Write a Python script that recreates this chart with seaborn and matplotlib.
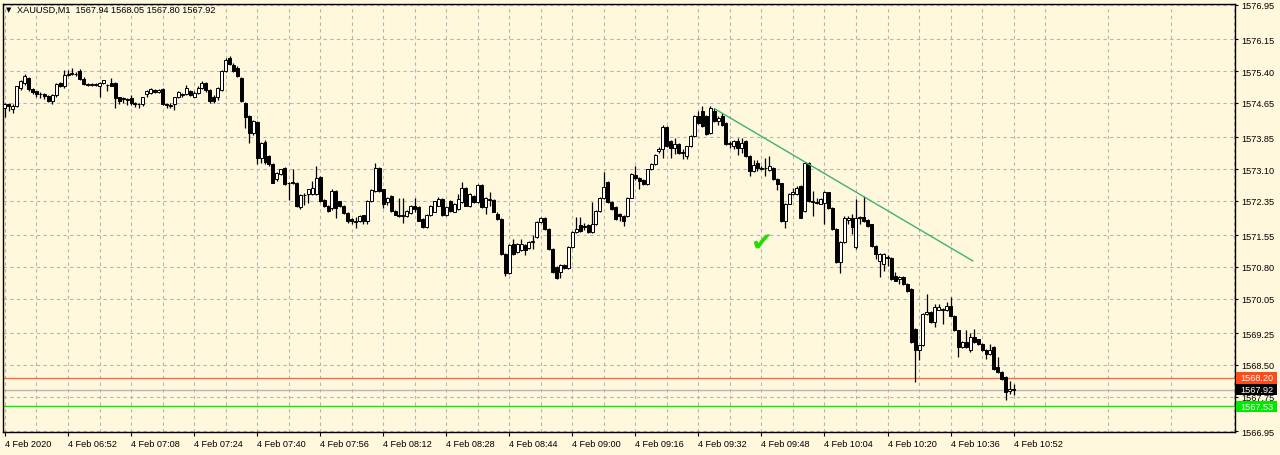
# ======================================================
# XAUUSD M1 candlestick chart (MetaTrader style)
# ======================================================

import numpy as np
import pandas as pd
import seaborn as sns
import matplotlib.pyplot as plt
from matplotlib.patches import Rectangle
from matplotlib.ticker import FixedLocator
from matplotlib.transforms import blended_transform_factory

# ======================================================
# Data
# ======================================================

opens = [
    1574.54, 1574.62, 1574.50, 1574.58, 1575.00, 1575.12, 1575.24, 1574.97, 1574.92, 1574.86,
    1574.86, 1574.82, 1574.69, 1574.83, 1575.13, 1575.05, 1575.31, 1575.33, 1575.33, 1575.40,
    1575.22, 1575.10, 1575.08, 1575.08, 1575.05, 1575.12, 1575.08, 1575.13, 1575.12, 1574.78,
    1574.76, 1574.74, 1574.76, 1574.66, 1574.63, 1574.62, 1574.85, 1574.89, 1574.95, 1574.90,
    1574.97, 1574.62, 1574.59, 1574.62, 1574.78, 1574.84, 1574.86, 1574.92, 1574.80, 1574.89,
    1575.01, 1575.13, 1574.95, 1574.80,
    1574.78, 1574.95, 1575.40, 1575.70, 1575.54, 1575.48, 1575.24, 1574.66, 1574.34, 1573.95,
    1574.20, 1573.36, 1573.74, 1573.40, 1573.22, 1572.86, 1572.98, 1573.12, 1572.77, 1572.80,
    1572.77, 1572.21, 1572.48, 1572.52, 1572.52, 1572.52, 1572.92, 1572.38, 1572.23, 1572.19,
    1572.59, 1572.34, 1572.23, 1572.07, 1571.92, 1571.87, 1571.88, 1572.01, 1571.88, 1572.35,
    1572.58, 1573.13, 1572.62, 1572.32, 1572.46, 1572.11, 1572.03, 1572.00, 1572.00, 1572.07,
    1572.24, 1572.20, 1571.93, 1571.74, 1572.02, 1572.10, 1572.24, 1572.40, 1572.01, 1572.35,
    1572.10, 1572.16, 1572.32, 1572.65, 1572.22, 1572.46, 1572.32, 1572.72, 1572.20, 1572.40,
    1572.37, 1572.05, 1571.93, 1571.11, 1570.65, 1571.35, 1571.15, 1571.19, 1571.31, 1571.24,
    1571.38, 1571.50, 1571.85, 1571.95, 1571.70, 1571.23, 1570.80, 1570.68, 1570.85, 1570.77,
    1571.27, 1571.62, 1571.78, 1571.76, 1571.78, 1571.62, 1571.80, 1572.12, 1572.42, 1572.79,
    1572.32, 1572.20,
    1572.04, 1572.00, 1571.99, 1572.43, 1572.97, 1572.90, 1572.84, 1572.74, 1573.09, 1573.21,
    1573.52, 1573.56, 1574.08, 1573.75, 1573.60, 1573.68, 1573.48, 1573.40, 1573.63, 1573.87,
    1574.34, 1574.46, 1574.34, 1573.94, 1574.46, 1574.22, 1574.34, 1574.18, 1573.68, 1573.64,
    1573.75, 1573.60, 1573.75, 1573.40, 1573.05, 1573.24, 1573.13, 1573.13, 1573.07, 1573.13,
    1572.86, 1572.76, 1571.88, 1572.29, 1572.51, 1572.51, 1572.70, 1572.12, 1573.25, 1572.35,
    1572.33, 1572.29, 1572.31, 1572.55, 1572.19, 1571.69, 1570.91, 1571.38, 1571.90, 1571.96,
    1571.26, 1571.96, 1571.98, 1571.90, 1571.80, 1571.30, 1570.95, 1570.88, 1571.04, 1571.02,
    1570.60, 1570.52, 1570.56, 1570.40, 1570.28, 1569.35, 1568.84, 1568.96, 1569.70, 1569.74,
    1569.51, 1569.80, 1569.78, 1569.78, 1569.89, 1569.66, 1569.31, 1568.92, 1569.04, 1568.84,
    1569.15, 1569.10, 1569.00, 1568.86, 1568.76, 1568.92, 1568.45, 1568.33, 1568.21, 1567.88,
    1567.94,
]

highs = [
    1574.64, 1574.66, 1574.62, 1575.06, 1575.18, 1575.32, 1575.26, 1574.99, 1574.94, 1574.90,
    1574.88, 1574.84, 1574.85, 1575.12, 1575.15, 1575.43, 1575.43, 1575.48, 1575.38, 1575.44,
    1575.25, 1575.12, 1575.11, 1575.13, 1575.14, 1575.20, 1575.10, 1575.24, 1575.14, 1574.80,
    1574.78, 1574.76, 1574.84, 1574.68, 1574.66, 1574.80, 1574.96, 1575.00, 1574.98, 1574.98,
    1575.00, 1574.66, 1574.64, 1574.80, 1574.93, 1574.89, 1575.08, 1574.95, 1574.92, 1575.04,
    1575.16, 1575.15, 1574.97, 1574.84,
    1575.03, 1575.42, 1575.70, 1575.76, 1575.58, 1575.52, 1575.26, 1574.68, 1574.36, 1574.26,
    1574.22, 1573.74, 1573.78, 1573.44, 1573.24, 1573.02, 1573.11, 1573.14, 1572.80, 1573.09,
    1572.79, 1572.52, 1572.53, 1572.64, 1572.82, 1573.17, 1572.94, 1572.40, 1572.25, 1572.62,
    1572.61, 1572.36, 1572.25, 1572.09, 1571.94, 1571.98, 1572.02, 1572.03, 1572.37, 1572.62,
    1573.25, 1573.15, 1572.64, 1572.45, 1572.48, 1572.13, 1572.43, 1572.43, 1572.13, 1572.25,
    1572.41, 1572.22, 1571.95, 1572.04, 1572.26, 1572.36, 1572.44, 1572.42, 1572.22, 1572.38,
    1572.30, 1572.52, 1572.79, 1572.67, 1572.54, 1572.48, 1572.75, 1572.74, 1572.44, 1572.55,
    1572.39, 1572.08, 1571.95, 1571.13, 1571.33, 1571.46, 1571.37, 1571.46, 1571.33, 1571.40,
    1571.56, 1571.87, 1571.97, 1571.97, 1571.72, 1571.25, 1570.82, 1570.87, 1570.87, 1571.29,
    1571.64, 1571.97, 1571.97, 1571.84, 1571.82, 1572.32, 1572.14, 1572.44, 1573.02, 1572.81,
    1572.34, 1572.23,
    1572.06, 1572.02, 1572.45, 1573.01, 1573.17, 1572.92, 1572.86, 1573.11, 1573.23, 1573.46,
    1573.62, 1574.14, 1574.10, 1573.77, 1573.83, 1573.70, 1573.56, 1573.65, 1573.89, 1574.36,
    1574.46, 1574.57, 1574.36, 1574.57, 1574.54, 1574.34, 1574.42, 1574.20, 1573.75, 1573.77,
    1573.83, 1573.83, 1573.77, 1573.42, 1573.32, 1573.32, 1573.18, 1573.36, 1573.40, 1573.15,
    1572.88, 1572.78, 1572.31, 1572.53, 1572.66, 1572.70, 1572.72, 1573.27, 1573.27, 1572.59,
    1572.41, 1572.43, 1572.59, 1572.57, 1572.21, 1571.71, 1571.40, 1571.99, 1572.00, 1572.04,
    1572.39, 1572.00, 1572.47, 1571.92, 1571.82, 1571.32, 1571.13, 1571.12, 1571.08, 1571.04,
    1570.68, 1570.58, 1570.58, 1570.42, 1570.30, 1569.37, 1568.98, 1569.72, 1570.17, 1569.76,
    1569.93, 1569.93, 1569.84, 1569.99, 1570.09, 1569.68, 1569.33, 1569.06, 1569.31, 1569.25,
    1569.35, 1569.12, 1569.02, 1568.88, 1569.00, 1568.94, 1568.68, 1568.35, 1568.23, 1568.13,
    1568.05,
]

lows = [
    1574.31, 1574.45, 1574.42, 1574.55, 1574.95, 1575.08, 1574.93, 1574.87, 1574.80, 1574.76,
    1574.74, 1574.68, 1574.62, 1574.80, 1575.02, 1575.01, 1575.28, 1575.30, 1575.28, 1575.20,
    1575.08, 1575.06, 1575.06, 1575.06, 1574.78, 1575.10, 1574.93, 1575.04, 1574.54, 1574.62,
    1574.64, 1574.60, 1574.60, 1574.55, 1574.54, 1574.58, 1574.80, 1574.86, 1574.88, 1574.88,
    1574.60, 1574.54, 1574.54, 1574.48, 1574.76, 1574.80, 1574.84, 1574.82, 1574.78, 1574.87,
    1574.98, 1574.90, 1574.66, 1574.66,
    1574.72, 1574.93, 1575.38, 1575.54, 1575.38, 1575.26, 1574.68, 1574.07, 1573.72, 1573.90,
    1573.22, 1573.25, 1573.22, 1573.18, 1572.76, 1572.82, 1572.95, 1572.72, 1572.38, 1572.74,
    1572.21, 1572.16, 1572.25, 1572.30, 1572.50, 1572.50, 1572.33, 1572.20, 1572.09, 1572.14,
    1571.95, 1572.21, 1572.05, 1571.84, 1571.80, 1571.72, 1571.86, 1571.82, 1571.80, 1572.33,
    1572.56, 1572.56, 1572.19, 1572.26, 1572.09, 1572.01, 1571.98, 1571.84, 1571.98, 1572.05,
    1572.08, 1571.87, 1571.72, 1571.72, 1572.00, 1572.08, 1572.22, 1571.99, 1571.99, 1572.10,
    1572.08, 1572.14, 1572.30, 1572.22, 1572.20, 1572.30, 1572.30, 1572.18, 1572.05, 1572.24,
    1572.08, 1571.91, 1571.09, 1570.60, 1570.63, 1571.09, 1571.13, 1571.17, 1571.07, 1571.22,
    1571.23, 1571.48, 1571.83, 1571.68, 1571.21, 1570.66, 1570.51, 1570.53, 1570.75, 1570.75,
    1571.25, 1571.60, 1571.62, 1571.66, 1571.60, 1571.60, 1571.78, 1572.10, 1572.40, 1572.30,
    1572.14, 1571.91,
    1571.88, 1571.76, 1571.97, 1572.41, 1572.85, 1572.62, 1572.72, 1572.72, 1573.07, 1573.19,
    1573.48, 1573.37, 1573.61, 1573.37, 1573.45, 1573.46, 1573.33, 1573.33, 1573.61, 1573.85,
    1574.16, 1574.08, 1573.89, 1573.92, 1574.20, 1574.14, 1574.12, 1573.66, 1573.60, 1573.58,
    1573.44, 1573.48, 1573.38, 1572.93, 1573.03, 1573.06, 1573.08, 1572.93, 1573.05, 1572.84,
    1572.60, 1571.86, 1571.72, 1572.27, 1572.49, 1572.49, 1571.94, 1572.10, 1572.33, 1572.00,
    1572.29, 1572.27, 1571.80, 1572.17, 1571.67, 1570.89, 1570.67, 1571.36, 1571.82, 1571.57,
    1571.22, 1571.80, 1571.86, 1571.75, 1571.28, 1570.98, 1570.56, 1570.71, 1570.83, 1570.50,
    1570.46, 1570.40, 1570.38, 1570.22, 1569.02, 1568.10, 1568.62, 1568.94, 1569.68, 1569.49,
    1569.38, 1569.78, 1569.46, 1569.76, 1569.64, 1569.29, 1568.68, 1568.90, 1568.90, 1568.80,
    1569.02, 1568.96, 1568.82, 1568.64, 1568.74, 1568.39, 1568.31, 1568.15, 1567.67, 1567.82,
    1567.80,
]

closes = [
    1574.62, 1574.58, 1574.58, 1575.04, 1575.16, 1575.28, 1574.97, 1574.90, 1574.86, 1574.85,
    1574.82, 1574.69, 1574.83, 1575.10, 1575.04, 1575.31, 1575.34, 1575.33, 1575.32, 1575.22,
    1575.10, 1575.08, 1575.09, 1575.10, 1575.13, 1575.18, 1575.07, 1575.06, 1574.77, 1574.70,
    1574.75, 1574.73, 1574.66, 1574.63, 1574.62, 1574.78, 1574.93, 1574.97, 1574.90, 1574.96,
    1574.62, 1574.60, 1574.58, 1574.78, 1574.90, 1574.85, 1575.00, 1574.84, 1574.89, 1575.01,
    1575.13, 1574.95, 1574.70, 1574.70,
    1575.01, 1575.40, 1575.65, 1575.56, 1575.40, 1575.28, 1574.70, 1574.31, 1573.95, 1574.23,
    1573.36, 1573.72, 1573.27, 1573.21, 1572.78, 1573.00, 1573.09, 1572.74, 1572.78, 1572.77,
    1572.23, 1572.50, 1572.50, 1572.62, 1572.66, 1572.90, 1572.35, 1572.23, 1572.11, 1572.59,
    1572.19, 1572.23, 1572.07, 1571.89, 1571.88, 1571.86, 1572.00, 1571.88, 1572.35, 1572.60,
    1573.13, 1572.58, 1572.27, 1572.43, 1572.11, 1572.03, 1572.00, 1572.01, 1572.11, 1572.23,
    1572.16, 1571.89, 1571.74, 1572.02, 1572.24, 1572.34, 1572.40, 1572.01, 1572.20, 1572.12,
    1572.28, 1572.40, 1572.65, 1572.24, 1572.52, 1572.32, 1572.72, 1572.20, 1572.42, 1572.37,
    1572.10, 1571.93, 1571.11, 1570.65, 1571.31, 1571.11, 1571.35, 1571.35, 1571.19, 1571.38,
    1571.42, 1571.85, 1571.95, 1571.70, 1571.23, 1570.68, 1570.53, 1570.85, 1570.77, 1571.27,
    1571.62, 1571.70, 1571.64, 1571.74, 1571.62, 1571.80, 1572.12, 1572.42, 1572.67, 1572.32,
    1572.16, 1571.93,
    1571.99, 1571.88, 1572.43, 1572.99, 1572.90, 1572.82, 1572.74, 1573.09, 1573.21, 1573.44,
    1573.56, 1574.08, 1573.63, 1573.60, 1573.68, 1573.48, 1573.50, 1573.63, 1573.87, 1574.34,
    1574.18, 1574.10, 1573.91, 1574.53, 1574.22, 1574.30, 1574.14, 1573.68, 1573.70, 1573.75,
    1573.60, 1573.70, 1573.40, 1573.05, 1573.20, 1573.13, 1573.10, 1573.12, 1573.17, 1572.86,
    1572.74, 1571.88, 1572.29, 1572.51, 1572.55, 1572.66, 1571.96, 1573.25, 1572.35, 1572.33,
    1572.31, 1572.39, 1572.57, 1572.19, 1571.69, 1570.91, 1571.38, 1571.96, 1571.96, 1571.73,
    1571.96, 1571.95, 1571.88, 1571.77, 1571.30, 1571.10, 1571.11, 1571.10, 1571.02, 1570.52,
    1570.48, 1570.56, 1570.40, 1570.24, 1569.04, 1568.84, 1568.96, 1569.70, 1569.74, 1569.51,
    1569.85, 1569.85, 1569.82, 1569.89, 1569.66, 1569.31, 1568.92, 1569.04, 1568.92, 1569.15,
    1569.04, 1569.00, 1568.84, 1568.76, 1568.84, 1568.41, 1568.33, 1568.17, 1567.86, 1567.93,
    1567.92,
]

time_labels = [
    "4 Feb 2020", "4 Feb 06:52", "4 Feb 07:08", "4 Feb 07:24", "4 Feb 07:40",
    "4 Feb 07:56", "4 Feb 08:12", "4 Feb 08:28", "4 Feb 08:44", "4 Feb 09:00",
    "4 Feb 09:16", "4 Feb 09:32", "4 Feb 09:48", "4 Feb 10:04", "4 Feb 10:20",
    "4 Feb 10:36", "4 Feb 10:52",
]

price_ticks = [1576.95, 1576.15, 1575.40, 1574.65, 1573.85, 1573.10, 1572.35,
               1571.55, 1570.80, 1570.05, 1569.25, 1568.50, 1567.75, 1566.95]

# horizontal levels: resistance-ish line, bid line, support line
level_prices = [1568.20, 1567.92, 1567.53]
level_line_colors = ["#ff6a45", "#b8b8b8", "#00f000"]
level_box_colors = ["#ff4a1c", "#000000", "#00e800"]
level_box_labels = [True, True, True]

# hand drawn trend line and check mark (bar index, price)
trend_bars = [180.2, 245.7]
trend_prices = [1574.51, 1570.94]
check_bar = 192.1
check_price = 1571.36

title_symbol = "XAUUSD,M1"
title_ohlc = [1567.94, 1568.05, 1567.80, 1567.92]

# ======================================================
# Build DataFrame
# ======================================================

df = pd.DataFrame({"open": opens, "high": highs, "low": lows, "close": closes})
df["bar"] = np.arange(len(df))
df["bull"] = df["close"] >= df["open"]
df["body_low"] = df[["open", "close"]].min(axis=1)
df["body_h"] = (df["close"] - df["open"]).abs().clip(lower=0.012)

BG = "#fff8dc"
GRID = "#b4b4b4"

# ======================================================
# Plot
# ======================================================

sns.set_theme(style="ticks", rc={"axes.facecolor": BG, "figure.facecolor": BG})
plt.rcParams["font.family"] = ["Liberation Sans", "DejaVu Sans"]

fig = plt.figure(figsize=(12.8, 4.56), dpi=100)
ax = fig.add_axes([3 / 1280, 23 / 456, 1232 / 1280, 428 / 456])
ax.set_facecolor(BG)

# candles
ax.vlines(df["bar"], df["low"], df["high"], color="black", linewidth=0.9, zorder=3)
ax.bar(
    df["bar"],
    df["body_h"],
    bottom=df["body_low"],
    width=0.76,
    color=np.where(df["bull"], "white", "black"),
    edgecolor="black",
    linewidth=0.7,
    zorder=4,
)

# levels
for price, col in zip(level_prices, level_line_colors):
    ax.axhline(price, color=col, linewidth=1.0, zorder=2)

# trend line + check mark
ax.plot(trend_bars, trend_prices, color="#3cb371", linewidth=1.0, zorder=5)
ax.text(check_bar, check_price, "\u2714", color="#22dd00", fontsize=19,
        ha="center", va="center", family=["DejaVu Sans"], zorder=6)

# axes ranges
ax.set_xlim(-0.5, 312.2)
ax.set_ylim(1566.927, 1576.973)

# x ticks: label every 16 bars, grid every 8 bars
major_x = [16 * k for k in range(len(time_labels))]
minor_x = [8 * k for k in range(40) if k % 2 == 1]
ax.xaxis.set_major_locator(FixedLocator(major_x))
ax.xaxis.set_minor_locator(FixedLocator(minor_x))
ax.set_xticklabels(time_labels, ha="left")
ax.tick_params(axis="x", which="major", length=3, width=0.8, pad=2,
               labelsize=6.6, colors="black", direction="out")
ax.tick_params(axis="x", which="minor", length=0)

# y ticks on the right
ax.yaxis.tick_right()
ax.set_yticks(price_ticks)
ax.set_yticklabels([f"{p:.2f}" for p in price_ticks])
ax.tick_params(axis="y", which="major", length=2.5, width=0.8, pad=2,
               labelsize=6.6, colors="black", direction="out")

ax.grid(True, axis="both", which="both", color=GRID, linestyle=(0, (3, 3)),
        linewidth=0.8, zorder=0)
ax.set_axisbelow(True)

for side in ["left", "right", "top", "bottom"]:
    ax.spines[side].set_visible(True)
    ax.spines[side].set_color("black")
    ax.spines[side].set_linewidth(1.0)

# price boxes on the right scale
trans = blended_transform_factory(ax.transAxes, ax.transData)
box_w = 41 / 1232
for price, col in zip(level_prices, level_box_colors):
    ax.add_patch(Rectangle((1.0008, price - 0.135), box_w, 0.27, transform=trans,
                           facecolor=col, edgecolor="none", clip_on=False, zorder=7))
    ax.text(1.0008 + box_w / 2, price, f"{price:.2f}", transform=trans,
            color="white", fontsize=6.6, ha="center", va="center",
            clip_on=False, zorder=8)

# title in the top-left corner
fig.text(6 / 1280, 1 - 10.5 / 456, "\u25bc", fontsize=5, color="black",
         va="center", ha="left", family=["DejaVu Sans"])
fig.text(17 / 1280, 1 - 10.5 / 456,
         title_symbol + "  " + " ".join(f"{v:.2f}" for v in title_ohlc),
         fontsize=6.6, color="black", va="center", ha="left")

plt.savefig("out.png", dpi=100, facecolor=BG)
